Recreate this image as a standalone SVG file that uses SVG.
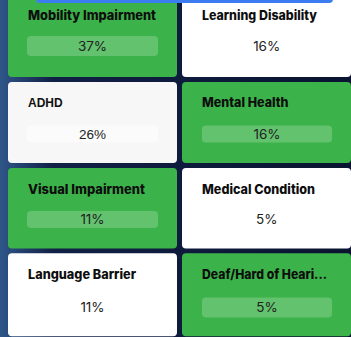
<svg xmlns="http://www.w3.org/2000/svg" width="351" height="337" viewBox="0 0 351 337">
  <defs>
    <linearGradient id="bg" gradientUnits="userSpaceOnUse" x1="0" y1="0" x2="351" y2="0">
      <stop offset="0" stop-color="#2f5688"/>
      <stop offset="0.03" stop-color="#294b7c"/>
      <stop offset="0.15" stop-color="#112046"/>
      <stop offset="1" stop-color="#0a1430"/>
    </linearGradient>
    <style>
      .green { fill: #3cb34a; }
      .white { fill: #ffffff; }
      .gray { fill: #f7f7f7; }
      .gbar { fill: #63c26e; }
      .wbar { fill: #fbfbfb; }
      .title { font-family: Inter, "Noto Sans", sans-serif; font-weight: 800; font-size: 13px; fill: #0d0d0d; }
      .pct { font-family: Inter, "Noto Sans", sans-serif; font-weight: 400; font-size: 13.5px; fill: #222222; text-anchor: middle; }
      .atitle { font-family: "Liberation Sans", Arial, sans-serif; font-weight: 700; font-size: 12px; fill: #111111; }
      .apct { font-family: "Liberation Sans", Arial, sans-serif; font-weight: 400; font-size: 13.5px; fill: #222222; text-anchor: middle; }
    </style>
  </defs>
  <rect x="0" y="0" width="351" height="337" fill="url(#bg)"/>

  <g id="mobility-impairment">
    <rect class="green" x="8" y="-5" width="169" height="82" rx="4"/>
    <rect class="gbar" x="27" y="36" width="131" height="20" rx="4"/>
    <text class="title" x="28" y="20" textLength="128" lengthAdjust="spacingAndGlyphs">Mobility Impairment</text>
    <text class="pct" x="92.5" y="50.7">37%</text>
  </g>

  <g id="learning-disability">
    <rect class="white" x="182" y="-5" width="169" height="82" rx="4"/>
    <text class="title" x="202" y="20" textLength="115" lengthAdjust="spacingAndGlyphs">Learning Disability</text>
    <text class="pct" x="266.7" y="50.7">16%</text>
  </g>

  <rect id="top-bar" x="36" y="-10" width="297" height="13" rx="4" fill="#3b7cf0"/>

  <g id="adhd">
    <rect class="gray" x="8" y="82" width="169" height="81" rx="4"/>
    <rect class="wbar" x="27" y="125.5" width="131" height="17" rx="4"/>
    <text class="atitle" x="28" y="107.3">ADHD</text>
    <text class="apct" x="92.5" y="139">26%</text>
  </g>

  <g id="mental-health">
    <rect class="green" x="182" y="82" width="169" height="81" rx="4"/>
    <rect class="gbar" x="202" y="125.5" width="130" height="17" rx="4"/>
    <text class="title" x="202" y="107.3" textLength="86.5" lengthAdjust="spacingAndGlyphs">Mental Health</text>
    <text class="pct" x="267" y="139">16%</text>
  </g>

  <g id="visual-impairment">
    <rect class="green" x="8" y="168" width="169" height="80.5" rx="4"/>
    <rect class="gbar" x="27" y="211" width="131" height="17" rx="4"/>
    <text class="title" x="28" y="194" textLength="117" lengthAdjust="spacingAndGlyphs">Visual Impairment</text>
    <text class="pct" x="92.5" y="224">11%</text>
  </g>

  <g id="medical-condition">
    <rect class="white" x="182" y="168" width="169" height="80.5" rx="4"/>
    <text class="title" x="202" y="194" textLength="113" lengthAdjust="spacingAndGlyphs">Medical Condition</text>
    <text class="pct" x="266.7" y="224">5%</text>
  </g>

  <g id="language-barrier">
    <rect class="white" x="8" y="253.3" width="169" height="83" rx="4"/>
    <text class="title" x="28" y="279" textLength="108" lengthAdjust="spacingAndGlyphs">Language Barrier</text>
    <text class="pct" x="92.5" y="312.3">11%</text>
  </g>

  <g id="deaf-hard-of-hearing">
    <rect class="green" x="182" y="253.3" width="169" height="83" rx="4"/>
    <rect class="gbar" x="202" y="297.5" width="130" height="20" rx="4"/>
    <text class="title" x="202" y="279" textLength="125" lengthAdjust="spacingAndGlyphs">Deaf/Hard of Heari...</text>
    <text class="pct" x="267" y="312.3">5%</text>
  </g>
</svg>
